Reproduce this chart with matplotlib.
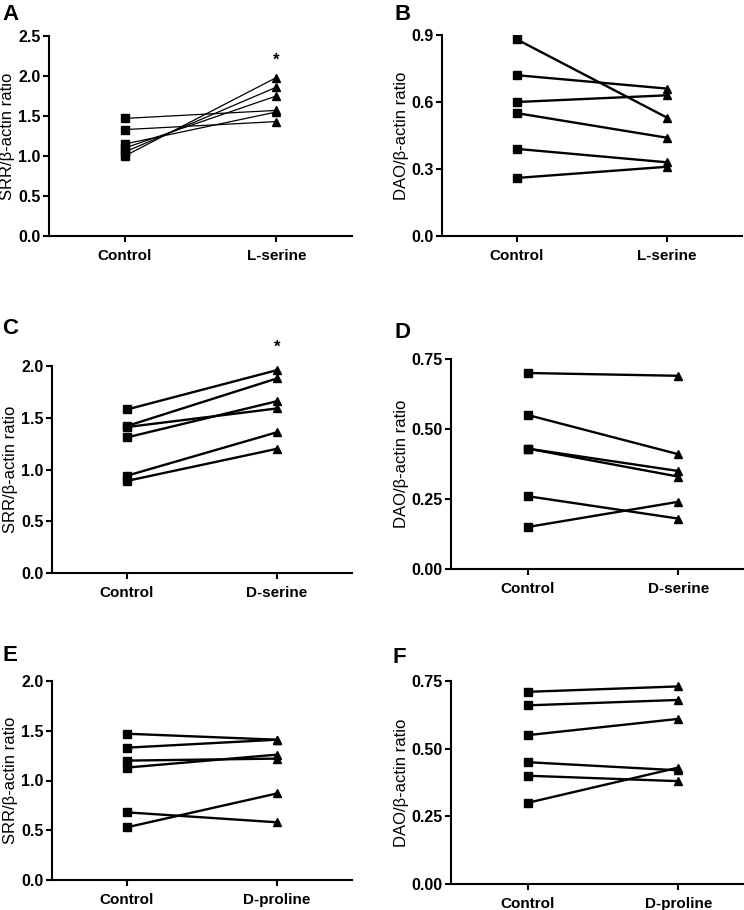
import matplotlib
matplotlib.use("Agg")
import matplotlib.pyplot as plt
from matplotlib.ticker import FormatStrFormatter

plt.rcParams['font.family'] = ['Liberation Sans', 'DejaVu Sans']

# ---- data (control -> treatment pairs) ----
a_control = [1.47, 1.33, 1.15, 1.10, 1.05, 1.00]
a_treat   = [1.57, 1.43, 1.55, 1.75, 1.86, 1.98]
b_control = [0.88, 0.72, 0.60, 0.55, 0.39, 0.26]
b_treat   = [0.53, 0.66, 0.63, 0.44, 0.33, 0.31]
c_control = [1.58, 1.42, 1.41, 1.31, 0.94, 0.89]
c_treat   = [1.96, 1.88, 1.59, 1.66, 1.36, 1.20]
d_control = [0.70, 0.55, 0.43, 0.43, 0.26, 0.15]
d_treat   = [0.69, 0.41, 0.33, 0.35, 0.18, 0.24]
e_control = [1.47, 1.33, 1.20, 1.13, 0.68, 0.53]
e_treat   = [1.41, 1.41, 1.22, 1.26, 0.58, 0.87]
f_control = [0.71, 0.66, 0.55, 0.45, 0.40, 0.30]
f_treat   = [0.73, 0.68, 0.61, 0.42, 0.38, 0.43]

groups = [["Control", "L-serine"], ["Control", "L-serine"],
          ["Control", "D-serine"], ["Control", "D-serine"],
          ["Control", "D-proline"], ["Control", "D-proline"]]
ylabels = ["SRR/β-actin ratio", "DAO/β-actin ratio"] * 3
yticks = [[0, 0.5, 1.0, 1.5, 2.0, 2.5], [0, 0.3, 0.6, 0.9],
          [0, 0.5, 1.0, 1.5, 2.0], [0, 0.25, 0.50, 0.75],
          [0, 0.5, 1.0, 1.5, 2.0], [0, 0.25, 0.50, 0.75]]
fmts = ["%.1f", "%.1f", "%.1f", "%.2f", "%.1f", "%.2f"]
letters = ["A", "B", "C", "D", "E", "F"]
stars = [True, False, True, False, False, False]
controls = [a_control, b_control, c_control, d_control, e_control, f_control]
treats = [a_treat, b_treat, c_treat, d_treat, e_treat, f_treat]

W, H = 744, 910
# axes boxes in pixels: x0, x1, ytop, ybottom
boxes = [(49, 352, 36, 236), (442, 742, 35, 236),
         (52, 352, 366, 573), (451, 743, 359, 569),
         (52, 352, 681, 880), (451, 743, 681, 884)]
letter_pos = [(2, 20), (394, 20), (2, 334), (394, 338), (2, 661), (392, 663)]
xlims = [(-0.5, 1.5), (-0.5, 1.5), (-0.5, 1.5), (-0.51, 1.43), (-0.5, 1.5), (-0.51, 1.43)]

fig = plt.figure(figsize=(W / 100, H / 100), dpi=100)

for i in range(6):
    x0, x1, yt, yb = boxes[i]
    ax = fig.add_axes([x0 / W, 1 - yb / H, (x1 - x0) / W, (yb - yt) / H])
    lw = 0.9 if i == 0 else 1.7
    for c, t in zip(controls[i], treats[i]):
        ax.plot([0, 1], [c, t], color='black', lw=lw, zorder=2)
    ax.plot([0] * len(controls[i]), controls[i], ls='none', marker='s',
            ms=5.8, color='black', zorder=3)
    ax.plot([1] * len(treats[i]), treats[i], ls='none', marker='^',
            ms=6.2, color='black', zorder=3)
    ax.set_xlim(*xlims[i])
    ax.set_ylim(0, yticks[i][-1])
    ax.set_yticks(yticks[i])
    ax.yaxis.set_major_formatter(FormatStrFormatter(fmts[i]))
    ax.set_xticks([0, 1])
    ax.set_xticklabels(groups[i], fontweight='bold', fontsize=11)
    for lab in ax.get_yticklabels():
        lab.set_fontweight('bold')
        lab.set_fontsize(11.5)
    ax.set_ylabel(ylabels[i], fontsize=12, labelpad=2)
    for s in ['top', 'right']:
        ax.spines[s].set_visible(False)
    for s in ['left', 'bottom']:
        ax.spines[s].set_linewidth(1.5)
    ax.tick_params(width=1.5, length=4.5, pad=1.5)
    ax.tick_params(axis='x', pad=5)
    ax.patch.set_visible(False)
    for sp in ax.spines.values():
        sp.set_clip_on(False)
    if stars[i]:
        ax.text(1, max(treats[i]) + 0.22, "*", ha='center', va='center',
                fontsize=12, fontweight='bold')
    lx, ly = letter_pos[i]
    fig.text(lx / W, 1 - ly / H, letters[i], fontsize=16, fontweight='bold',
             ha='left', va='baseline')

fig.savefig("out.png", dpi=100)
